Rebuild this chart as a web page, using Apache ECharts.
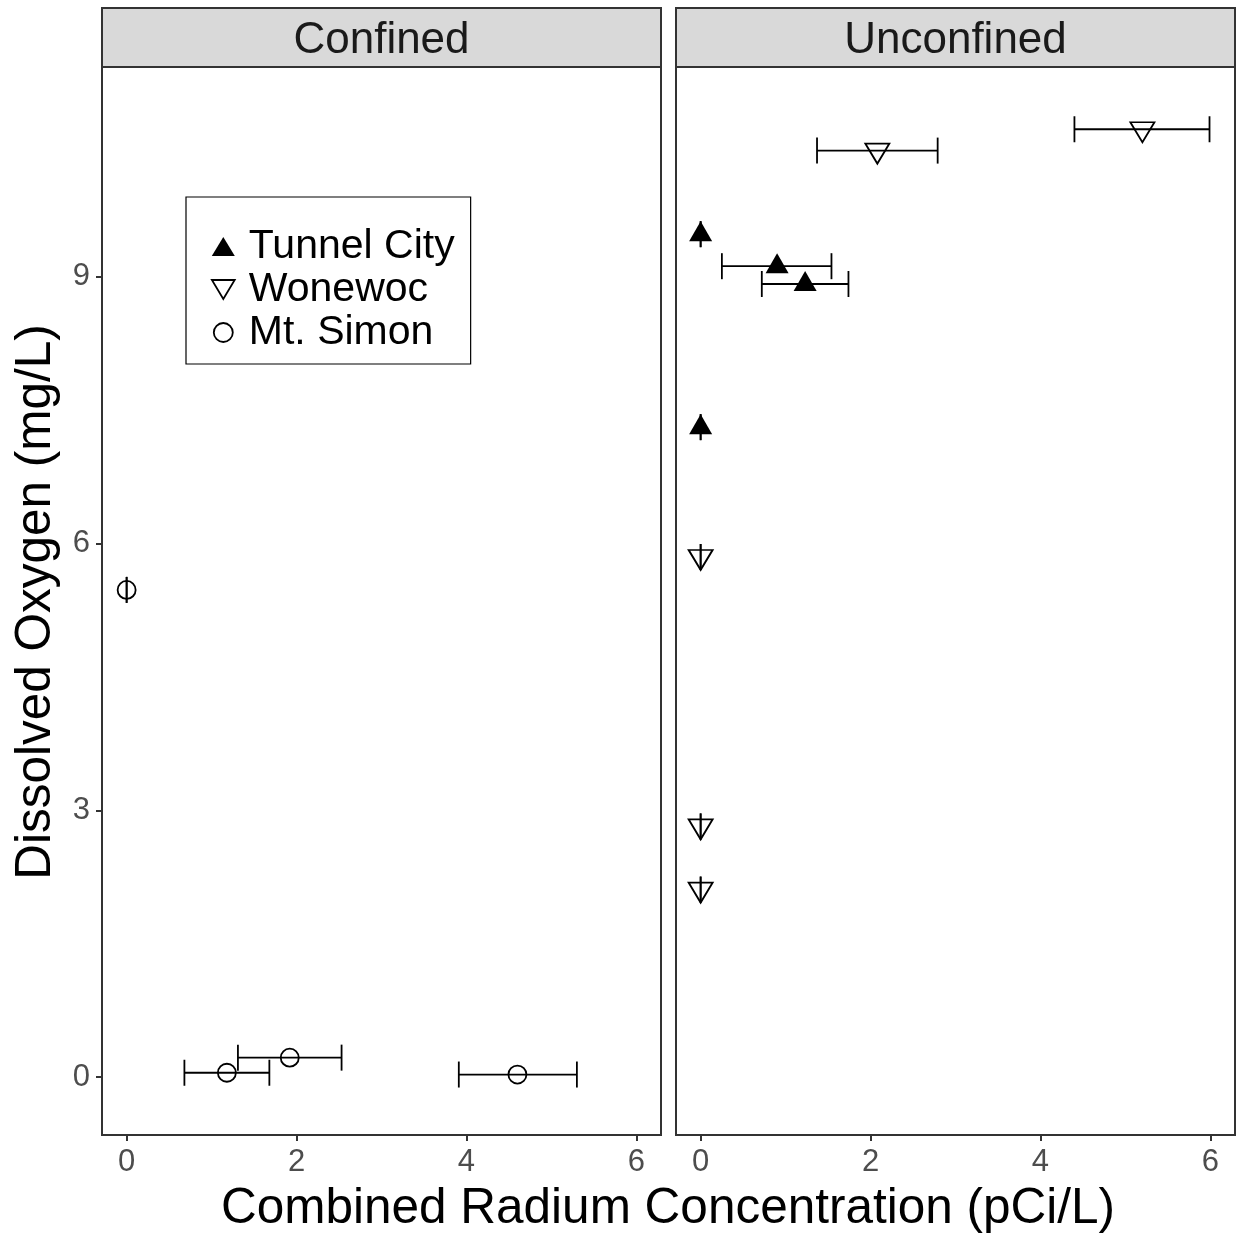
<!DOCTYPE html>
<html>
<head>
<meta charset="utf-8">
<script src="https://cdn.jsdelivr.net/npm/echarts@6/dist/echarts.min.js"></script>
<style>
html,body{margin:0;padding:0;background:#fff;}
#chart{width:1238px;height:1233px;}
</style>
</head>
<body>
<div id="chart"></div>
<script>
// ---- data ----
var panels = ['Confined', 'Unconfined'];
var xTicks = [0, 2, 4, 6];
var yTicks = [0, 3, 6, 9];

// Confined panel: Mt. Simon
var msX    = [0,    1.18, 1.92, 4.60];
var msY    = [5.48, 0.05, 0.22, 0.03];
var msXmin = [0,    0.68, 1.31, 3.91];
var msXmax = [0,    1.68, 2.53, 5.30];

// Unconfined panel: Tunnel City
var tcX    = [0,    0.90, 1.23, 0];
var tcY    = [9.48, 9.12, 8.92, 7.31];
var tcXmin = [0,    0.25, 0.72, 0];
var tcXmax = [0,    1.54, 1.74, 0];

// Unconfined panel: Wonewoc
var wwX    = [2.08,  5.20,  0,    0,    0];
var wwY    = [10.42, 10.66, 5.85, 2.82, 2.11];
var wwXmin = [1.37,  4.40,  0,    0,    0];
var wwXmax = [2.79,  5.99,  0,    0,    0];

var FONT = 'Liberation Sans, Arial, Helvetica, sans-serif';
var DOWN_TRI = 'path://M0,0L24,0L12,20Z';

function pts(xs, ys) { return xs.map(function (x, i) { return [x, ys[i]]; }); }
function bars(lo, hi, ys) { return lo.map(function (l, i) { return [l, hi[i], ys[i]]; }); }

function errSeries(data, gi) {
  return {
    type: 'custom', xAxisIndex: gi, yAxisIndex: gi, silent: true, z: 2,
    encode: { x: [0, 1], y: 2 },
    data: data,
    renderItem: function (params, api) {
      var y = api.value(2);
      var p1 = api.coord([api.value(0), y]);
      var p2 = api.coord([api.value(1), y]);
      var h = 13;
      var st = { stroke: '#000', lineWidth: 1.8 };
      return {
        type: 'group',
        children: [
          { type: 'line', shape: { x1: p1[0], y1: p1[1], x2: p2[0], y2: p2[1] }, style: st },
          { type: 'line', shape: { x1: p1[0], y1: p1[1] - h, x2: p1[0], y2: p1[1] + h }, style: st },
          { type: 'line', shape: { x1: p2[0], y1: p2[1] - h, x2: p2[0], y2: p2[1] + h }, style: st }
        ]
      };
    }
  };
}

function mkX(gi) {
  return {
    gridIndex: gi, type: 'value', min: -0.29, max: 6.29,
    axisLine: { show: false, onZero: false }, splitLine: { show: false },
    axisTick: { show: true, length: 6, customValues: xTicks, lineStyle: { color: '#333', width: 2 } },
    axisLabel: { customValues: xTicks, fontSize: 31, color: '#4D4D4D', fontFamily: FONT, margin: 12 }
  };
}
function mkY(gi) {
  return {
    gridIndex: gi, type: 'value', min: -0.65, max: 11.36,
    axisLine: { show: false, onZero: false }, splitLine: { show: false },
    axisTick: { show: gi === 0, length: 6, customValues: yTicks, lineStyle: { color: '#333', width: 2 } },
    axisLabel: { show: gi === 0, customValues: yTicks, fontSize: 31, color: '#4D4D4D', fontFamily: FONT, margin: 12 }
  };
}

var chart = echarts.init(document.getElementById('chart'), null, { renderer: 'canvas' });
var stripW = 559;
var stripLefts = [102, 676];
var graphics = [];
panels.forEach(function (p, i) {
  graphics.push({ type: 'rect', shape: { x: stripLefts[i], y: 8, width: stripW, height: 59 },
    style: { fill: '#D9D9D9', stroke: '#333', lineWidth: 2 }, z: 10 });
  graphics.push({ type: 'text', x: stripLefts[i] + stripW / 2, y: 41,
    style: { text: p, fontSize: 44, fontFamily: FONT, fill: '#1A1A1A', align: 'center', verticalAlign: 'middle' }, z: 11 });
});
graphics.push({ type: 'text', x: 668, y: 1209,
  style: { text: 'Combined Radium Concentration (pCi/L)', fontSize: 49.5, fontFamily: FONT, fill: '#000', align: 'center', verticalAlign: 'middle' } });
graphics.push({ type: 'text', x: 36, y: 602, rotation: Math.PI / 2,
  style: { text: 'Dissolved Oxygen (mg/L)', fontSize: 49.5, fontFamily: FONT, fill: '#000', align: 'center', verticalAlign: 'middle' } });

var option = {
  backgroundColor: '#fff',
  animation: false,
  grid: [
    { left: 102, top: 67, width: 559, height: 1068, show: true, borderColor: '#333', borderWidth: 2, backgroundColor: '#fff' },
    { left: 676, top: 67, width: 559, height: 1068, show: true, borderColor: '#333', borderWidth: 2, backgroundColor: '#fff' }
  ],
  xAxis: [mkX(0), mkX(1)],
  yAxis: [mkY(0), mkY(1)],
  legend: {
    orient: 'vertical', left: 186, top: 197,
    backgroundColor: '#fff', borderColor: '#000', borderWidth: 1.2,
    padding: [28, 16, 10, 25], itemGap: 0, itemWidth: 23, itemHeight: 19,
    textStyle: { fontSize: 41, fontFamily: FONT, color: '#000', lineHeight: 43, padding: [0, 0, 0, 9] },
    data: [
      { name: 'Tunnel City', icon: 'triangle', itemStyle: { color: '#000', borderWidth: 0, opacity: 1 } },
      { name: 'Wonewoc', icon: DOWN_TRI, itemStyle: { color: 'rgba(0,0,0,0)', borderColor: '#000', borderWidth: 1.8, opacity: 1 } },
      { name: 'Mt. Simon', icon: 'circle', itemStyle: { color: 'rgba(0,0,0,0)', borderColor: '#000', borderWidth: 1.8, opacity: 1 } }
    ]
  },
  graphic: graphics,
  series: [
    errSeries(bars(msXmin, msXmax, msY), 0),
    errSeries(bars(tcXmin, tcXmax, tcY), 1),
    errSeries(bars(wwXmin, wwXmax, wwY), 1),
    { name: 'Mt. Simon', type: 'scatter', xAxisIndex: 0, yAxisIndex: 0, z: 3,
      symbol: 'circle', symbolSize: 18, data: pts(msX, msY),
      itemStyle: { color: 'rgba(0,0,0,0)', borderColor: '#000', borderWidth: 1.8, opacity: 1 } },
    { name: 'Tunnel City', type: 'scatter', xAxisIndex: 1, yAxisIndex: 1, z: 3,
      symbol: 'triangle', symbolSize: [23, 20], symbolOffset: [0, -3], data: pts(tcX, tcY),
      itemStyle: { color: '#000', opacity: 1 } },
    { name: 'Wonewoc', type: 'scatter', xAxisIndex: 1, yAxisIndex: 1, z: 3,
      symbol: DOWN_TRI, symbolSize: [24, 20], symbolOffset: [0, 3], data: pts(wwX, wwY),
      itemStyle: { color: 'rgba(0,0,0,0)', borderColor: '#000', borderWidth: 1.8, opacity: 1 } }
  ]
};
chart.setOption(option);
</script>
</body>
</html>
